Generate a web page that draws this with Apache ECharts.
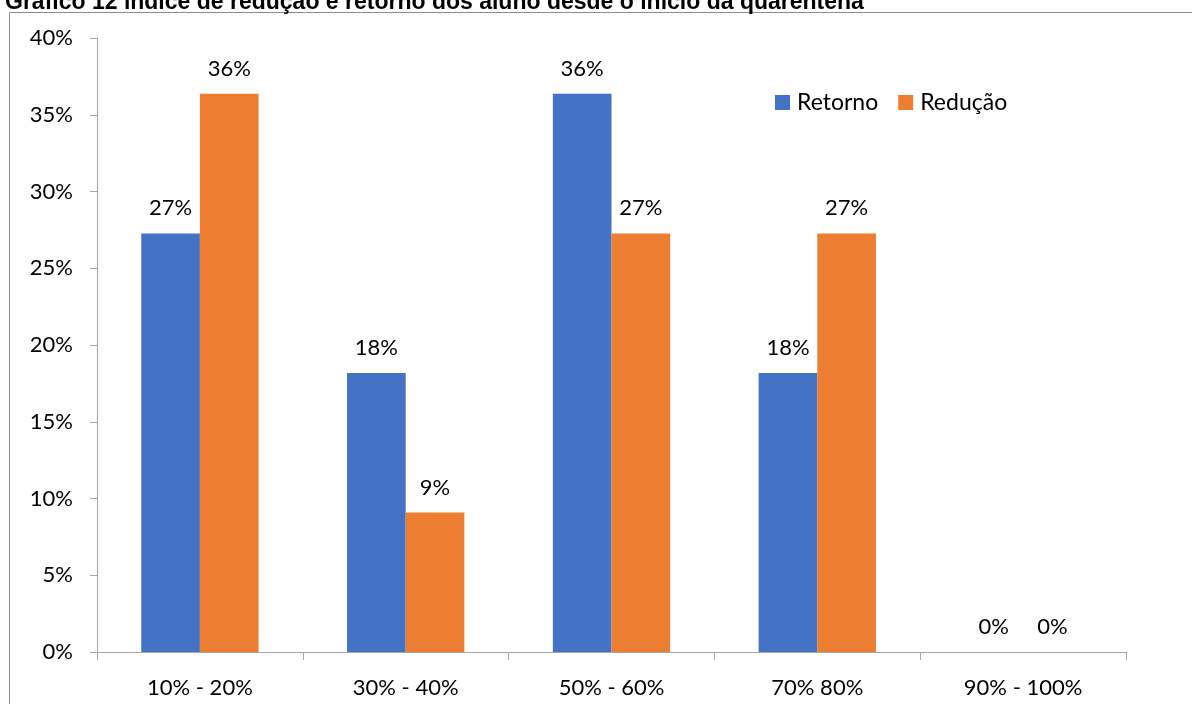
<!DOCTYPE html>
<html>
<head>
<meta charset="utf-8">
<script src="https://cdn.jsdelivr.net/npm/echarts@6/dist/echarts.min.js"></script>
<style>
html,body{margin:0;padding:0;background:#fff;}
#chart{width:1192px;height:704px;}
</style>
</head>
<body>
<div id="chart"></div>
<script>
const titleText = 'Gráfico 12 índice de redução e retorno dos aluno desde o início da quarentena';
const categories = ['10% - 20%', '30% - 40%', '50% - 60%', '70% 80%', '90% - 100%'];
const seriesNames = ['Retorno', 'Redução'];
const retorno = [27.27, 18.18, 36.36, 18.18, 0];
const reducao = [36.36, 9.09, 27.27, 27.27, 0];
const yTicks = { min: 0, max: 40, interval: 5 };

const font = 'Lato, "Open Sans", sans-serif';
const chart = echarts.init(document.getElementById('chart'));
const labelCfg = {
  show: true, position: 'top', distance: 14,
  fontFamily: font, fontSize: 22, color: '#000',
  formatter: p => Math.round(p.value) + '%'
};
chart.setOption({
  animation: false,
  title: {
    text: titleText, left: 0, top: -14,
    textStyle: { fontFamily: 'Liberation Sans, Arial, sans-serif', fontWeight: 'bold', fontSize: 23, color: '#000' }
  },
  graphic: [{
    type: 'rect', shape: { x: 9.5, y: 12.5, width: 1400, height: 900 },
    style: { fill: 'none', stroke: '#8c8c8c', lineWidth: 1 }, silent: true
  }],
  legend: {
    data: seriesNames, left: 770, top: 86,
    itemWidth: 15, itemHeight: 15, itemGap: 20,
    icon: 'rect',
    textStyle: { fontFamily: font, fontSize: 23, color: '#000', padding: [0, 0, 0, 2] }
  },
  grid: { left: 97, right: 66, top: 38, bottom: 52 },
  xAxis: {
    type: 'category', data: categories,
    axisLine: { lineStyle: { color: '#a6a6a6', width: 1 } },
    axisTick: { show: true, length: 8, lineStyle: { color: '#a6a6a6' } },
    axisLabel: { fontFamily: font, fontSize: 22, color: '#000', margin: 25 }
  },
  yAxis: {
    type: 'value', min: yTicks.min, max: yTicks.max, interval: yTicks.interval,
    axisLine: { show: true, lineStyle: { color: '#a6a6a6', width: 1 } },
    axisTick: { show: true, length: 7, lineStyle: { color: '#a6a6a6' } },
    splitLine: { show: false },
    axisLabel: { fontFamily: font, fontSize: 22, color: '#000', margin: 24, formatter: v => v + '%' }
  },
  series: [
    { name: seriesNames[0], type: 'bar', data: retorno, barGap: '0%', barCategoryGap: '43%',
      itemStyle: { color: '#4472C4' }, label: labelCfg },
    { name: seriesNames[1], type: 'bar', data: reducao, barGap: '0%', barCategoryGap: '43%',
      itemStyle: { color: '#ED7D31' }, label: labelCfg }
  ]
});
</script>
</body>
</html>
